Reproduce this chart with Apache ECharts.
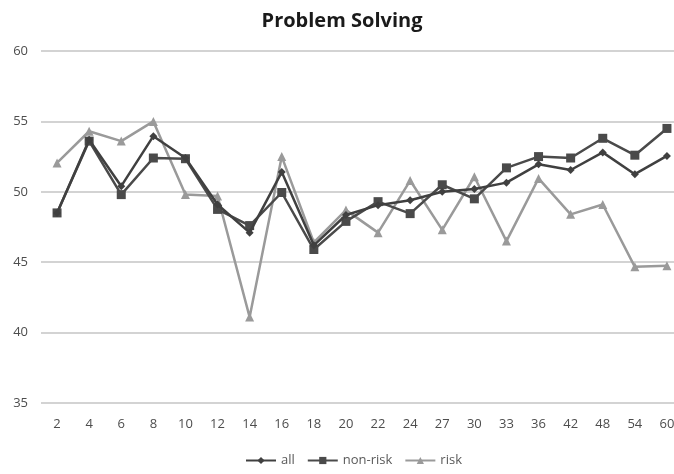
<!DOCTYPE html>
<html>
<head>
<meta charset="utf-8">
<script src="https://cdn.jsdelivr.net/npm/echarts@6/dist/echarts.min.js"></script>
<style>html,body{margin:0;padding:0;background:#fff;overflow:hidden;width:674px;height:474px}#c{width:683px;height:474px}</style>
</head>
<body>
<div id="c"></div>
<script>
var categories = ['2','4','6','8','10','12','14','16','18','20','22','24','27','30','33','36','42','48','54','60'];
var allValues = [48.5,53.7,50.4,53.95,52.4,49.1,47.1,51.4,46.2,48.35,49.05,49.4,50.0,50.2,50.65,51.95,51.55,52.8,51.25,52.55];
var nonRiskValues = [48.5,53.6,49.8,52.4,52.35,48.75,47.6,49.95,45.9,47.9,49.3,48.45,50.5,49.5,51.7,52.5,52.4,53.8,52.6,54.5];
var riskValues = [52.05,54.3,53.6,55.0,49.8,49.7,41.1,52.5,46.4,48.7,47.1,50.8,47.3,51.07,46.5,50.95,48.4,49.1,44.67,44.75];
var yTicks = {min: 35, max: 60, interval: 5};

var chart = echarts.init(document.getElementById('c'), null, {renderer: 'canvas'});
chart.setOption({
  animation: false,
  backgroundColor: '#fff',
  title: {
    text: 'Problem Solving', left: 337, textAlign: 'center', top: 6,
    textStyle: {fontFamily: 'Open Sans', fontWeight: 'bold', fontSize: 20, color: '#1a1a1a'}
  },
  legend: {
    bottom: 2, left: 240, itemWidth: 30, itemHeight: 9, itemGap: 12,
    textStyle: {fontFamily: 'Open Sans', fontSize: 13, color: '#595959'},
    data: ['all','non-risk','risk']
  },
  grid: {left: 41, right: 0, top: 51, bottom: 71, containLabel: false},
  xAxis: {
    type: 'category', data: categories, boundaryGap: true,
    axisLine: {show: false}, axisTick: {show: false},
    axisLabel: {fontFamily: 'Open Sans', fontSize: 13, color: '#4d4d4d', margin: 15}
  },
  yAxis: {
    type: 'value', min: yTicks.min, max: yTicks.max, interval: yTicks.interval,
    axisLine: {show: false}, axisTick: {show: false},
    axisLabel: {fontFamily: 'Open Sans', fontSize: 13, color: '#4d4d4d', margin: 13},
    splitLine: {lineStyle: {color: '#c4c4c4', width: 1.5}}
  },
  series: [
    {name: 'all', type: 'line', data: allValues, symbol: 'diamond', symbolSize: 8,
     lineStyle: {color: '#404040', width: 2.5}, itemStyle: {color: '#404040'}, z: 3},
    {name: 'non-risk', type: 'line', data: nonRiskValues, symbol: 'rect', symbolSize: 9,
     lineStyle: {color: '#4a4a4a', width: 2.5}, itemStyle: {color: '#4a4a4a'}, z: 2},
    {name: 'risk', type: 'line', data: riskValues, symbol: 'triangle', symbolSize: 9,
     lineStyle: {color: '#9a9a9a', width: 2.5}, itemStyle: {color: '#9a9a9a'}, z: 1}
  ]
});
</script>
</body>
</html>
